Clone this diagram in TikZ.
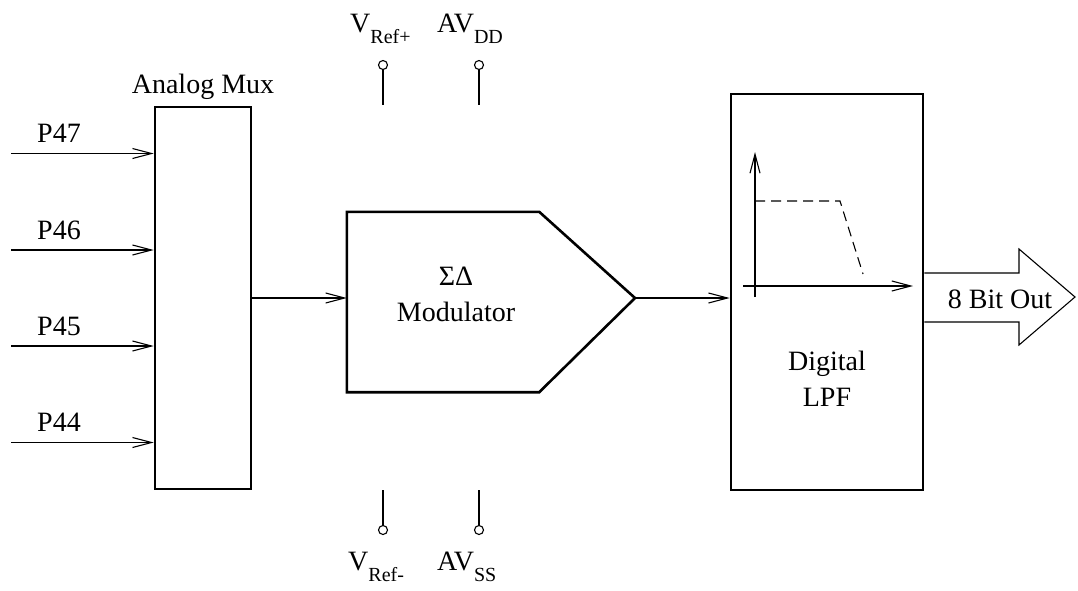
\documentclass[tikz,border=0pt]{standalone}
\usepackage{fontspec}
\setmainfont{Liberation Serif}
\usetikzlibrary{positioning,arrows.meta,calc}

\newcommand{\pinsub}[1]{\raisebox{-11pt}{\fontsize{20}{20}\selectfont #1}}

\begin{document}
\begin{tikzpicture}[
    x=1pt, y=-1pt,
    block/.style={
        draw,
        line width=2.6pt,
        inner sep=0pt
    },
    arrow/.style={
        -{Straight Barb[length=19pt,width=10pt]},
        line width=1.1pt
    },
    wire/.style={line width=1.1pt},
    pinhead/.style={circle, draw, line width=1.1pt, minimum size=9pt, inner sep=0pt},
    lbl/.style={font=\fontsize{28}{36}\selectfont, inner sep=0pt}
]

\useasboundingbox (0,0) rectangle (1078,590);

%% ===== ANALOG MUX =====
\node[block, minimum width=96pt, minimum height=382pt] (mux) at (203,298) {};
\node[lbl, anchor=base] (muxlbl) at ([yshift=12pt]mux.north) {Analog Mux};

\foreach \pname/\yy in {P47/153.5, P46/250, P45/346, P44/442.5} {
  \coordinate (in\pname) at (11,\yy);
  \draw[arrow] (in\pname) -- (in\pname -| mux.west);
  \node[lbl, anchor=base west] (lbl\pname) at ($(in\pname)+(26,-11)$) {\pname};
}

%% ===== MODULATOR =====
\node[minimum width=192pt, minimum height=180pt, inner sep=0pt] (mod) at (443,302) {};
\coordinate (modtip) at (635,298);
\draw[block] (mod.north west) -- (mod.north east) -- (modtip)
  -- (mod.south east) -- (mod.south west) -- cycle;
\node[lbl, align=center] (modtxt) at (456,294.5) {ΣΔ\\Modulator};

\draw[arrow] (mux.east) -- (mux.east -| mod.west);

%% ===== REFERENCE / SUPPLY PINS =====
\foreach \pname/\xx in {refp/383, avdd/479} {
  \node[pinhead] (\pname) at (\xx,65) {};
  \coordinate (\pname end) at (\xx,105);
  \draw[wire] (\pname) -- (\pname end);
}
\foreach \pname/\xx in {refm/383, avss/479} {
  \node[pinhead] (\pname) at (\xx,530) {};
  \coordinate (\pname end) at (\xx,490);
  \draw[wire] (\pname) -- (\pname end);
}
\node[lbl, anchor=base west] (refplbl) at (350,32) {V\pinsub{Ref+}};
\node[lbl, anchor=base west] (avddlbl) at (437,32) {AV\pinsub{DD}};
\node[lbl, anchor=base west] (refmlbl) at (348,570) {V\pinsub{Ref-}};
\node[lbl, anchor=base west] (avsslbl) at (437,570) {AV\pinsub{SS}};

%% ===== DIGITAL LPF =====
\node[block, minimum width=192pt, minimum height=396pt] (lpf) at (827,292) {};
\draw[arrow] (modtip) -- (modtip -| lpf.west);

\coordinate (yaxlo) at (755,297);
\coordinate (yaxhi) at (755,152);
\coordinate (xaxlo) at (743,286);
\coordinate (xaxhi) at (913,286);
\draw[arrow] (yaxlo) -- (yaxhi);
\draw[arrow] (xaxlo) -- (xaxhi);
\draw[wire, dash pattern=on 10pt off 6pt] (755,201) -- (840,201) -- (863,274);

\node[lbl, align=center] (lpftxt) at (827,378.5) {Digital\\LPF};

%% ===== OUTPUT =====
\coordinate (outtip) at (1075,297);
\draw[wire] (lpf.east |- 0,273) -- (1019,273) -- (1019,249) -- (outtip)
  -- (1019,345) -- (1019,322) -- (lpf.east |- 0,322);
\node[lbl, anchor=base] (outlbl) at (1000,308) {8 Bit Out};

\end{tikzpicture}
\end{document}
